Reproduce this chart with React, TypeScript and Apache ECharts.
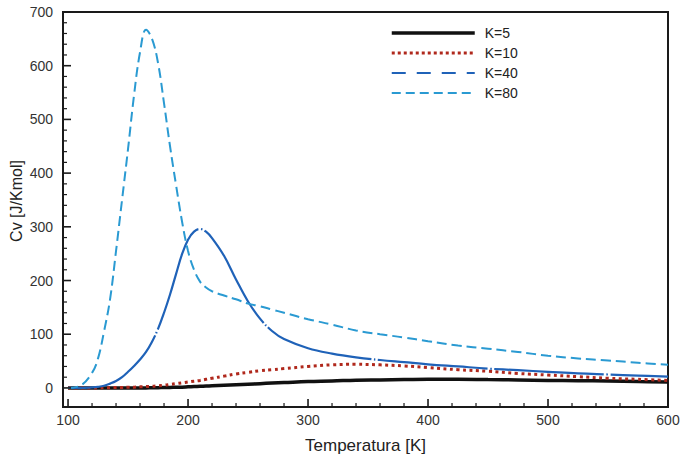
import React, { useEffect, useRef } from "react";
import * as echarts from "echarts";

const temperatures = [100,110,120,125,130,135,140,145,150,155,160,165,170,175,180,185,190,195,200,205,210,215,220,230,240,250,260,270,280,300,320,340,360,380,400,425,450,475,500,525,550,575,600];

const cvK5 = [0,0,0,0,0,0,0,0,0,0,0,0,0.5,0.5,1,1,1.5,1.5,2,2.5,3,3.5,4,5,6,7,8,9,10,12,13,14.5,15,15.5,16,16,15.5,15,14,13.5,13,12,11];
const cvK10 = [0,0,0,0,0.5,0.5,1,1,1.5,1.5,2,2.5,3,4,5,6.5,8,9.5,11,12.5,14,16,18,22,26,29,32,34,36,40,43,44,43,41,38,34,31,27,24,21,18,16,14];
const cvK40 = [0,0,1,2,4,8,13,20,30,41,53,67,86,110,140,174,212,249,276,291,296,291,279,246,202,161,129,106,91,74,64,57,52,48,44,40,36,33,30,27,25,23,21];
const cvK80 = [0,4,28,55,105,165,255,350,445,545,625,667,650,605,530,450,378,310,255,220,198,187,180,172,165,157,152,146,140,128,118,107,100,94,87,79,73,67,60,55,51,47,43];

const seriesNames = ["K=5", "K=10", "K=40", "K=80"];
const xTicks = [100, 200, 300, 400, 500, 600];
const xMinorTicks = [120,140,160,180,220,240,260,280,320,340,360,380,420,440,460,480,520,540,560,580];
const yTicks = [0, 100, 200, 300, 400, 500, 600, 700];
const yMinorTicks = [20,40,60,80,120,140,160,180,220,240,260,280,320,340,360,380,420,440,460,480,520,540,560,580,620,640,660,680];
const xRange = [95.8, 600];
const yRange = [-35.5, 700];

const FONT = "'Liberation Sans', Arial, Helvetica, sans-serif";

export default function App() {
  const ref = useRef<HTMLDivElement>(null);
  useEffect(() => {
    if (!ref.current) return;
    const chart = echarts.init(ref.current, undefined, { renderer: "svg" });
    const pairs = (vals: number[]) => temperatures.map((t, i) => [t, vals[i]]);
    const styles = [
      { color: "#111111", width: 3.5, type: "solid" as any },
      { color: "#b0281c", width: 3, type: [3, 3.5] as any },
      { color: "#1f62b8", width: 2.2, type: [110, 2.5, 1.5, 2.5] as any },
      { color: "#2a9ad2", width: 2, type: [10, 5] as any },
    ];
    const legendStyles = [
      { color: "#111111", width: 3.5, type: "solid" as any },
      { color: "#b0281c", width: 3, type: [3, 3] as any },
      { color: "#1f62b8", width: 2.2, type: [14, 11] as any },
      { color: "#2a9ad2", width: 2, type: [9, 5] as any },
    ];
    const allData = [cvK5, cvK10, cvK40, cvK80];
    const labelStyle = { fontSize: 14, color: "#333", fontFamily: FONT };
    const tickColor = "#1a1a1a";
    const tickSeries = (data: number[][], size: number[], offset: number[]) => ({
      type: "scatter",
      data,
      symbol: "rect",
      symbolSize: size,
      symbolOffset: offset,
      silent: true,
      clip: false,
      z: 20,
      itemStyle: { color: tickColor, opacity: 1 },
      emphasis: { disabled: true },
      tooltip: { show: false },
    });
    chart.setOption({
      animation: false,
      textStyle: { fontFamily: FONT },
      grid: {
        left: 63, right: 16, top: 12, bottom: 49, containLabel: false,
        show: true, borderColor: "#1a1a1a", borderWidth: 2, backgroundColor: "transparent",
      },
      legend: {
        orient: "vertical",
        left: 390,
        top: 26,
        padding: 0,
        itemWidth: 83,
        itemHeight: 14,
        itemGap: 6,
        textStyle: { fontSize: 14, color: "#222", fontFamily: FONT, padding: [0, 0, 0, 5] },
        data: seriesNames.map((n, i) => ({
          name: n,
          lineStyle: legendStyles[i],
          itemStyle: { color: legendStyles[i].color, opacity: 0 },
        })),
      },
      xAxis: {
        type: "value",
        position: "bottom",
        min: xRange[0],
        max: xRange[1],
        name: "Temperatura [K]",
        nameLocation: "middle",
        nameGap: 30,
        nameTextStyle: { fontSize: 17, color: "#222", fontFamily: FONT },
        axisLine: { show: true, onZero: false, lineStyle: { color: "#1a1a1a", width: 2 } },
        axisTick: { show: false },
        axisLabel: { show: true, margin: 6, customValues: xTicks, ...labelStyle },
        splitLine: { show: false },
      },
      yAxis: {
        type: "value",
        position: "left",
        min: yRange[0],
        max: yRange[1],
        axisLine: { show: true, onZero: false, lineStyle: { color: "#1a1a1a", width: 2 } },
        axisTick: { show: false },
        axisLabel: { show: true, margin: 10, customValues: yTicks, ...labelStyle },
        splitLine: { show: false },
      },
      graphic: [
        {
          type: "text",
          x: 16,
          y: 201,
          rotation: Math.PI / 2,
          style: {
            text: "Cv [J/Kmol]",
            fontSize: 16,
            fill: "#222",
            fontFamily: FONT,
            textAlign: "center",
            textVerticalAlign: "middle",
          },
        },
      ],
      series: [
        ...seriesNames.map((n, i) => ({
          name: n,
          type: "line",
          data: pairs(allData[i]),
          symbol: "none",
          smooth: 0.4,
          z: 2 + i,
          lineStyle: { ...styles[i], cap: "butt" },
          itemStyle: { color: styles[i].color },
        })),
        tickSeries(xTicks.map((t) => [t, yRange[0]]), [1.6, 8], [0, -4]),
        tickSeries(xMinorTicks.map((t) => [t, yRange[0]]), [1.2, 4], [0, -2]),
        tickSeries(yTicks.map((t) => [xRange[0], t]), [8, 1.6], [4, 0]),
        tickSeries(yMinorTicks.map((t) => [xRange[0], t]), [4, 1.2], [2, 0]),
      ],
    });
    return () => chart.dispose();
  }, []);
  return (
    <div
      ref={ref}
      style={{ position: "absolute", left: 0, top: 0, width: 684, height: 459, background: "#fff" }}
    />
  );
}
